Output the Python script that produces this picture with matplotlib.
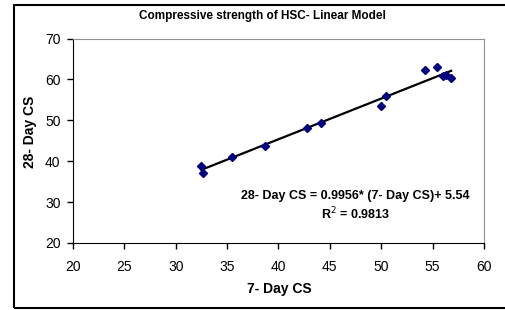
import matplotlib
matplotlib.use('Agg')
from matplotlib import pyplot as plt
from matplotlib.patches import Rectangle
import numpy as np

plt.rcParams['font.family'] = ['Liberation Sans', 'DejaVu Sans']

# 7-day vs 28-day compressive strength
cs7 = [32.5, 32.7, 35.5, 38.7, 42.8, 44.1, 50.0, 50.5, 54.3, 55.4, 56.0, 56.3, 56.8]
cs28 = [38.8, 37.2, 41.0, 43.7, 48.2, 49.3, 53.4, 56.0, 62.2, 63.0, 60.8, 61.0, 60.4]

slope, intercept = 0.9956, 5.54
r2 = 0.9813

W, H = 506, 310
fig = plt.figure(figsize=(W / 100, H / 100), dpi=100)
ax = fig.add_axes([73 / W, 1 - 243 / H, (484 - 73) / W, (243 - 38.5) / H])

ax.plot(cs7, cs28, 'D', color='#000080', ms=4.5, mec='#000080', zorder=3)
xfit = np.array([min(cs7), max(cs7)])
ax.plot(xfit, slope * xfit + intercept, 'k', lw=1.6, zorder=2)

ax.set_xlim(20, 60)
ax.set_ylim(20, 70)
ax.set_xticks(np.arange(20, 61, 5))
ax.set_yticks(np.arange(20, 71, 10))
ax.tick_params(direction='out', length=4, width=1, labelsize=10, colors='black')
ax.tick_params(axis='x', pad=8)
ax.tick_params(axis='y', pad=5)
for s in ['top', 'right']:
    ax.spines[s].set_color('#909090')
for s in ['left', 'bottom']:
    ax.spines[s].set_color('black')

ax.text(47.5, 31.4, '28- Day CS = 0.9956* (7- Day CS)+ 5.54', ha='center', va='center',
        fontsize=9, fontweight='bold')
ax.text(47.5, 27.0, r'R$^2$ = %.4f' % r2, ha='center', va='center',
        fontsize=9, fontweight='bold')

fig.text(262 / W, 1 - 15.5 / H, 'Compressive strength of HSC- Linear Model', ha='center', va='center',
         fontsize=8.5, fontweight='bold')
fig.text(279 / W, 1 - 289 / H, '7- Day CS', ha='center', va='center', fontsize=10, fontweight='bold')
fig.text(30 / W, 1 - 132 / H, '28- Day CS', ha='center', va='center', rotation=90,
         fontsize=10, fontweight='bold')

fig.patches.append(Rectangle((14 / W, 2 / H), (520 - 14) / W, (305 - 2) / H, transform=fig.transFigure,
                             fill=False, ec='black', lw=1.5))

fig.savefig('out.png', dpi=100)
